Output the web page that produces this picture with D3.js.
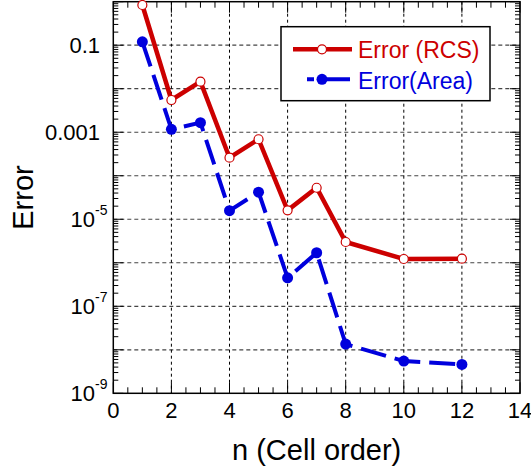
<!DOCTYPE html>
<html><head><meta charset="utf-8">
<script src="https://cdn.jsdelivr.net/npm/d3@7"></script>
<style>body{margin:0;background:#fff}svg{display:block;font-family:"Liberation Sans",Arial,sans-serif}</style>
</head><body>
<script>
const nValues = [1,2,3,4,5,6,7,8,10,12];
const errRCS  = [0.84,5.5e-3,1.45e-2,2.6e-4,6.9e-4,1.6e-5,5.3e-5,3.0e-6,1.22e-6,1.24e-6];
const errArea = [0.12,1.17e-3,1.66e-3,1.57e-5,4.2e-5,4.5e-7,1.7e-6,1.35e-8,5.5e-9,4.6e-9];
const xTicks = [0,2,4,6,8,10,12,14];
const yLabelTicks = [{v:1e-1,m:"0.1"},{v:1e-3,m:"0.001"},{v:1e-5,m:"10",e:"-5"},{v:1e-7,m:"10",e:"-7"},{v:1e-9,m:"10",e:"-9"}];
const seriesNames = ["Error (RCS)","Error(Area)"];

const W=531,H=469;
const L=113.3,R=520,T=1.7,B=393.3;
const svg=d3.select("body").append("svg").attr("width",W).attr("height",H);
const x=d3.scaleLinear().domain([0,14]).range([L,R]);
const y=d3.scaleLog().domain([1e-9,1]).range([B,T]);

// grid
const decades=d3.range(-8,0).map(e=>Math.pow(10,e));
svg.append("g").selectAll("line").data(decades).join("line")
 .attr("x1",L).attr("x2",R).attr("y1",d=>y(d)).attr("y2",d=>y(d))
 .attr("stroke","#444").attr("stroke-width",1.2).attr("stroke-dasharray","4,3");
svg.append("g").selectAll("line").data(xTicks.slice(1,-1)).join("line")
 .attr("y1",T).attr("y2",B).attr("x1",d=>x(d)).attr("x2",d=>x(d))
 .attr("stroke","#000").attr("stroke-width",1).attr("stroke-dasharray","3,3");

// ticks
const tg=svg.append("g").attr("stroke","#000").attr("stroke-width",1);
const yMinor=[];
for(let e=-9;e<0;e++){for(let k=2;k<=9;k++)yMinor.push(k*Math.pow(10,e));}
const yMajor=d3.range(-9,1).map(e=>Math.pow(10,e));
[[L,1],[R,-1]].forEach(([x0,s])=>{
  tg.append("g").selectAll("line").data(yMinor).join("line")
   .attr("x1",x0).attr("x2",x0+s*5).attr("y1",d=>y(d)).attr("y2",d=>y(d));
  tg.append("g").selectAll("line").data(yMajor).join("line")
   .attr("x1",x0).attr("x2",x0+s*10).attr("y1",d=>y(d)).attr("y2",d=>y(d));
});
const xMinor=d3.range(0.5,14,0.5).filter(v=>v%2!==0);
[[B,-1],[T,1]].forEach(([y0,s])=>{
  tg.append("g").selectAll("line").data(xMinor).join("line")
   .attr("y1",y0).attr("y2",y0+s*6).attr("x1",d=>x(d)).attr("x2",d=>x(d));
  tg.append("g").selectAll("line").data(xTicks).join("line")
   .attr("y1",y0).attr("y2",y0+s*11).attr("x1",d=>x(d)).attr("x2",d=>x(d));
});
svg.append("rect").attr("x",L).attr("y",T).attr("width",R-L).attr("height",B-T)
 .attr("fill","none").attr("stroke","#000").attr("stroke-width",1.5);

// tick labels
svg.append("g").selectAll("text").data(xTicks).join("text")
 .attr("x",d=>x(d)).attr("y",418).attr("text-anchor","middle").attr("font-size",22).text(d=>d);
const yl=svg.append("g");
yLabelTicks.forEach(t=>{
  if(!t.e){
    yl.append("text").attr("x",100).attr("y",y(t.v)+8).attr("text-anchor","end").attr("font-size",22).text(t.m);
  } else {
    yl.append("text").attr("x",95).attr("y",y(t.v)+8).attr("text-anchor","end").attr("font-size",22).text(t.m);
    yl.append("text").attr("x",95).attr("y",y(t.v)-4).attr("text-anchor","start").attr("font-size",14).text(t.e);
  }
});

// titles
svg.append("text").attr("x",(L+R)/2).attr("y",460).attr("text-anchor","middle").attr("font-size",29).text("n (Cell order)");
svg.append("text").attr("transform",`translate(33,${(T+B)/2}) rotate(-90)`).attr("text-anchor","middle").attr("font-size",29).text("Error");

// lines
const red="#cc0000", blue="#0000dd";
const line=d3.line().x(d=>x(d[0])).y(d=>y(d[1]));
const rcs=nValues.map((n,i)=>[n,errRCS[i]]);
const area=nValues.map((n,i)=>[n,errArea[i]]);
svg.append("path").datum(area).attr("d",line).attr("fill","none").attr("stroke",blue)
 .attr("stroke-width",4).attr("stroke-dasharray","26,9");
svg.append("g").selectAll("circle").data(area).join("circle")
 .attr("cx",d=>x(d[0])).attr("cy",d=>y(d[1])).attr("r",5.5).attr("fill",blue);
svg.append("path").datum(rcs).attr("d",line).attr("fill","none").attr("stroke",red)
 .attr("stroke-width",4.5).attr("stroke-linejoin","miter");
svg.append("g").selectAll("circle").data(rcs).join("circle")
 .attr("cx",d=>x(d[0])).attr("cy",d=>y(d[1])).attr("r",4.5).attr("fill","#fff").attr("stroke",red).attr("stroke-width",1.2);

// legend
const lg=svg.append("g");
lg.append("rect").attr("x",281).attr("y",26.7).attr("width",209).attr("height",74).attr("fill","#fff").attr("stroke","#000").attr("stroke-width",1.5);
lg.append("line").attr("x1",293).attr("x2",352).attr("y1",49.3).attr("y2",49.3).attr("stroke",red).attr("stroke-width",4.5);
lg.append("circle").attr("cx",322).attr("cy",49.3).attr("r",4.5).attr("fill","#fff").attr("stroke",red).attr("stroke-width",1.2);
lg.append("line").attr("x1",307).attr("x2",350).attr("y1",79.3).attr("y2",79.3).attr("stroke",blue).attr("stroke-width",4).attr("stroke-dasharray","7,5,40");
lg.append("circle").attr("cx",322).attr("cy",79.3).attr("r",5.5).attr("fill",blue);
lg.append("text").attr("x",358).attr("y",57.5).attr("font-size",23).attr("fill",red).text(seriesNames[0]);
lg.append("text").attr("x",358).attr("y",88.5).attr("font-size",23).attr("fill",blue).text(seriesNames[1]);
</script>
</body></html>
